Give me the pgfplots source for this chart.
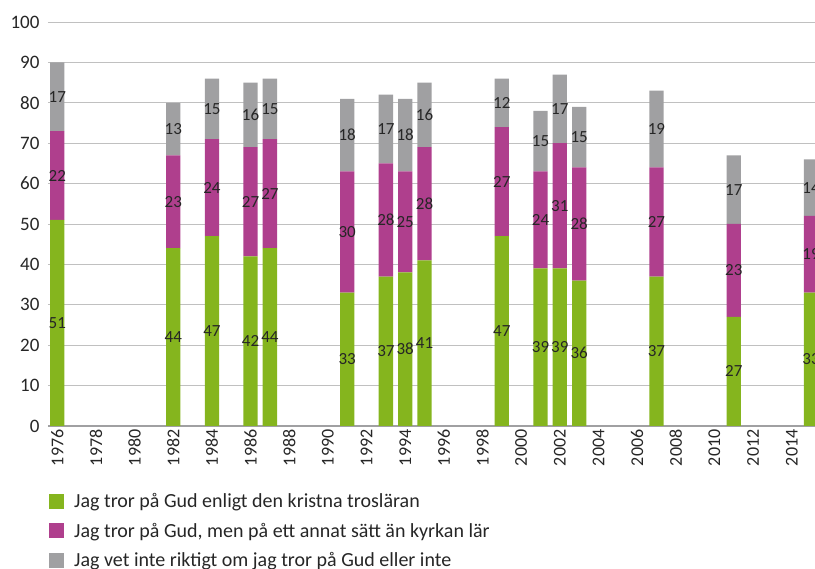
\documentclass[border=0pt]{standalone}
\usepackage{pgfplots}
\usepackage{pgfplotstable}
\pgfplotsset{compat=1.18}
\usepackage{fontspec}
\setmainfont{Carlito}
\definecolor{cgreen}{RGB}{133,181,30}
\definecolor{cmag}{RGB}{175,63,141}
\definecolor{cgray}{RGB}{160,160,162}
\definecolor{cgrid}{RGB}{192,192,192}
\definecolor{ctext}{RGB}{38,38,38}
\pgfplotstableread{
year g m n
1976 51 22 17
1982 44 23 13
1984 47 24 15
1986 42 27 16
1987 44 27 15
1991 33 30 18
1993 37 28 17
1994 38 25 18
1995 41 28 16
1999 47 27 12
2001 39 24 15
2002 39 31 17
2003 36 28 15
2007 37 27 19
2011 27 23 17
2015 33 19 14
}\datatable
\begin{document}
\begin{tikzpicture}
\begin{axis}[
  scale only axis,
  width=774.7pt, height=404pt,
  xmin=1975.52, xmax=2015.6,
  ymin=0, ymax=100,
  ybar stacked,
  bar width=14.3pt,
  /pgf/number format/assume math mode=true,
  axis line style={draw=none},
  tick style={draw=none},
  ymajorgrids,
  grid style={cgrid, line width=0.9pt},
  extra y ticks={0},
  extra y tick labels={},
  extra y tick style={grid style={cgray, line width=1.1pt}},
  ytick={0,10,...,100},
  xtick={1976,1978,...,2014},
  xticklabel style={rotate=90, anchor=east, font=\fontsize{18}{20}\selectfont, text=ctext, /pgf/number format/1000 sep={}, xshift=0pt},
  yticklabel style={font=\fontsize{19}{20}\selectfont, text=ctext, xshift=-5pt},
  nodes near coords,
  point meta=explicit,
  nodes near coords align={anchor=center},
  every node near coord/.append style={font=\fontsize{17}{19}\selectfont, text=ctext},
  legend style={at={(0,0)}, anchor=north west, xshift=-2pt, yshift=-63pt, draw=none, fill=none,
    font=\fontsize{20}{22}\selectfont, text=ctext, row sep=10pt, column sep=8pt},
  legend cell align=left,
  legend image code/.code={\fill[#1, draw=none] (0pt,-7.5pt) rectangle (15pt,7.5pt);},
]
\addplot[fill=cgreen, draw=none]
  table[x=year, y=g, meta=g]{\datatable};
\addlegendentry{Jag tror på Gud enligt den kristna trosläran}
\addplot[fill=cmag, draw=none]
  table[x=year, y=m, meta=m]{\datatable};
\addlegendentry{Jag tror på Gud, men på ett annat sätt än kyrkan lär}
\addplot[fill=cgray, draw=none]
  table[x=year, y=n, meta=n]{\datatable};
\addlegendentry{Jag vet inte riktigt om jag tror på Gud eller inte}
\end{axis}
\pgfresetboundingbox
\path[use as bounding box] (-48pt,-143pt) rectangle (767pt,426pt);
\end{tikzpicture}
\end{document}
